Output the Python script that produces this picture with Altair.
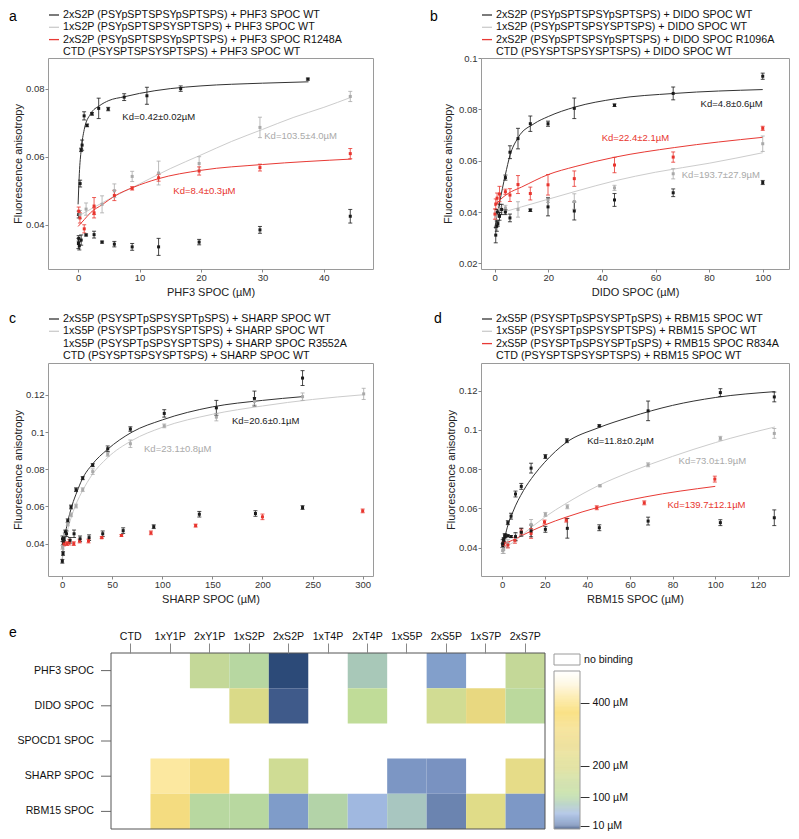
import altair as alt
import pandas as pd

FONT = "Liberation Sans"
BLACK, GRAY, RED = "#1a1a1a", "#a9a9a9", "#e8352e"
L_BLACK, L_GRAY, L_RED = "#333333", "#bcbcbc", "#f25a55"

# ---------------- panel a (PHF3) ----------------
A_LEGEND = ["2xS2P (PSYpSPTSPSYpSPTSPS) + PHF3 SPOC WT",
            "1xS2P (PSYpSPTSPSYSPTSPS) + PHF3 SPOC WT",
            "2xS2P (PSYpSPTSPSYpSPTSPS) + PHF3 SPOC R1248A",
            "CTD (PSYSPTSPSYSPTSPS) + PHF3 SPOC WT"]
A_2S2P_X = [0.1, 0.33, 0.49, 0.65, 0.98, 1.46, 2.26, 3.35, 4.9, 7.5, 11.2, 16.7, 37.4]
A_2S2P_Y = [0.0430, 0.0521, 0.0620, 0.0634, 0.0720, 0.0692, 0.0726, 0.0742, 0.0740, 0.0775, 0.0779, 0.0800, 0.0828]
A_2S2P_E = [0.0010, 0.0010, 0.0005, 0.0015, 0.0012, 0.0004, 0.0004, 0.0030, 0.0005, 0.0010, 0.0025, 0.0008, 0.0003]
A_1S2P_X = [0.3, 1.3, 3.9, 5.9, 8.8, 13.1, 19.7, 29.6, 44.3]
A_1S2P_Y = [0.0430, 0.0446, 0.0460, 0.0500, 0.0542, 0.0552, 0.0580, 0.0686, 0.0777]
A_1S2P_E = [0.0012, 0.0018, 0.0025, 0.0020, 0.0015, 0.0035, 0.0020, 0.0030, 0.0015]
A_MUT_X = [0.1, 0.3, 1.0, 2.6, 2.6, 5.9, 8.8, 13.1, 19.7, 29.6, 44.3]
A_MUT_Y = [0.0440, 0.0420, 0.0388, 0.0455, 0.0435, 0.0486, 0.0507, 0.0538, 0.0558, 0.0568, 0.0609]
A_MUT_E = [0.0012, 0.0015, 0.0012, 0.0025, 0.0015, 0.0015, 0.0005, 0.0010, 0.0012, 0.0010, 0.0015]
A_CTD_X = [0.05, 0.1, 0.2, 0.5, 1.3, 2.6, 3.9, 5.9, 8.8, 13.1, 19.7, 29.6, 44.3]
A_CTD_Y = [0.0345, 0.0360, 0.0338, 0.0355, 0.0370, 0.0371, 0.0349, 0.0343, 0.0335, 0.0335, 0.0349, 0.0385, 0.0425]
A_CTD_E = [0.0015, 0.0008, 0.0012, 0.0015, 0.0003, 0.0010, 0.0003, 0.0008, 0.0010, 0.0025, 0.0008, 0.0010, 0.0020]
A_FIT1_X = [0, 0.2, 0.5, 1, 2, 3.5, 5, 7.5, 10, 15, 20, 30, 37.5]
A_FIT1_Y = [0.046, 0.055, 0.062, 0.068, 0.0725, 0.075, 0.0765, 0.0776, 0.0786, 0.0800, 0.0808, 0.0816, 0.0820]
A_FIT2_X = [0, 5, 10, 15, 20, 25, 30, 35, 40, 44.5]
A_FIT2_Y = [0.0425, 0.0475, 0.052, 0.0565, 0.0605, 0.0645, 0.068, 0.0715, 0.0745, 0.0775]
A_FIT3_X = [0, 1, 2, 4, 6, 9, 13, 20, 30, 44.5]
A_FIT3_Y = [0.0395, 0.0415, 0.0435, 0.046, 0.0485, 0.051, 0.0535, 0.056, 0.0577, 0.0593]
A_KD = [("Kd=0.42±0.02µM", 7.2, 0.0717, BLACK),
        ("Kd=103.5±4.0µM", 30.3, 0.0660, GRAY),
        ("Kd=8.4±0.3µM", 15.5, 0.0498, RED)]

# ---------------- panel b (DIDO) ----------------
B_LEGEND = ["2xS2P (PSYpSPTSPSYpSPTSPS) + DIDO SPOC WT",
            "1xS2P (PSYpSPTSPSYSPTSPS) + DIDO SPOC WT",
            "2xS2P (PSYpSPTSPSYpSPTSPS) + DIDO SPOC R1096A",
            "CTD (PSYSPTSPSYSPTSPS) + DIDO SPOC WT"]
B_2S2P_X = [0.4, 0.8, 1.2, 1.8, 4.0, 5.7, 8.7, 13.3, 19.9, 29.7, 44.7, 66.6, 100]
B_2S2P_Y = [0.0310, 0.0345, 0.0355, 0.0410, 0.0534, 0.0633, 0.0686, 0.0744, 0.0744, 0.0804, 0.0816, 0.0862, 0.0929]
B_2S2P_E = [0.0030, 0.0020, 0.0010, 0.0020, 0.0010, 0.0025, 0.0040, 0.0030, 0.0010, 0.0040, 0.0005, 0.0025, 0.0012]
B_1S2P_X = [0.6, 1.8, 4.0, 8.7, 19.9, 29.7, 44.7, 66.6, 100]
B_1S2P_Y = [0.0385, 0.0410, 0.0416, 0.0410, 0.0447, 0.0441, 0.0494, 0.0549, 0.0666]
B_1S2P_E = [0.0015, 0.0010, 0.0010, 0.0030, 0.0010, 0.0030, 0.0010, 0.0020, 0.0030]
B_MUT_X = [0.1, 0.4, 0.9, 1.8, 4.0, 5.7, 8.7, 13.3, 19.9, 29.7, 44.7, 66.6, 100]
B_MUT_Y = [0.0392, 0.0431, 0.0454, 0.0470, 0.0479, 0.0466, 0.0507, 0.0472, 0.0506, 0.0530, 0.0583, 0.0614, 0.0726]
B_MUT_E = [0.0020, 0.0020, 0.0020, 0.0030, 0.0010, 0.0025, 0.0035, 0.0025, 0.0040, 0.0030, 0.0030, 0.0020, 0.0008]
B_CTD_X = [1.0, 1.8, 2.6, 4.0, 5.7, 13.3, 19.9, 29.7, 44.7, 66.6, 100]
B_CTD_Y = [0.0400, 0.0383, 0.0410, 0.0400, 0.0377, 0.0407, 0.0420, 0.0404, 0.0447, 0.0475, 0.0515]
B_CTD_E = [0.0010, 0.0015, 0.0020, 0.0010, 0.0015, 0.0005, 0.0035, 0.0035, 0.0025, 0.0015, 0.0008]
B_FIT1_X = [0, 1.8, 4, 5.7, 8.7, 14.7, 20, 30, 45, 67, 100]
B_FIT1_Y = [0.0336, 0.0435, 0.0546, 0.062, 0.0689, 0.0744, 0.0772, 0.0809, 0.0841, 0.0862, 0.0877]
B_FIT2_X = [0, 5, 10, 20, 30, 45, 60, 80, 100]
B_FIT2_Y = [0.039, 0.0405, 0.042, 0.045, 0.048, 0.0522, 0.0555, 0.059, 0.0631]
B_FIT3_X = [0, 2, 5, 10, 20, 30, 45, 67, 100]
B_FIT3_Y = [0.0423, 0.0447, 0.0472, 0.0497, 0.0546, 0.0577, 0.0614, 0.0651, 0.0691]
B_KD = [("Kd=4.8±0.6µM", 76.8, 0.0822, BLACK),
        ("Kd=22.4±2.1µM", 39.9, 0.0689, RED),
        ("Kd=193.7±27.9µM", 69.8, 0.0544, GRAY)]

# ---------------- panel c (SHARP) ----------------
C_LEGEND = ["2xS5P (PSYSPTpSPSYSPTpSPS) + SHARP SPOC WT",
            "1xS5P (PSYSPTpSPSYSPTSPS) + SHARP SPOC WT",
            "1xS5P (PSYSPTpSPSYSPTSPS) + SHARP SPOC R3552A",
            "CTD (PSYSPTSPSYSPTSPS) + SHARP SPOC WT"]
C_2S5P_X = [0.3, 1.0, 1.3, 3.3, 5.7, 9, 14, 20.6, 30.6, 45.6, 68.2, 102, 154, 192, 240]
C_2S5P_Y = [0.0305, 0.0347, 0.0405, 0.0463, 0.0523, 0.0597, 0.0690, 0.0752, 0.0822, 0.0910, 0.1016, 0.1100, 0.1130, 0.1180, 0.1290]
C_2S5P_E = [0.0010, 0.0010, 0.0010, 0.0010, 0.0010, 0.0010, 0.0010, 0.0008, 0.0008, 0.0015, 0.0012, 0.0020, 0.0040, 0.0040, 0.0040]
C_1S5P_X = [0.5, 2.7, 5.7, 9, 14, 20.6, 30.6, 45.6, 68.2, 102, 154, 192, 240, 301]
C_1S5P_Y = [0.0380, 0.0448, 0.0506, 0.0555, 0.0602, 0.0690, 0.0787, 0.0880, 0.0937, 0.1033, 0.1080, 0.1165, 0.1190, 0.1205]
C_1S5P_E = [0.0010, 0.0010, 0.0010, 0.0010, 0.0010, 0.0010, 0.0015, 0.0010, 0.0020, 0.0010, 0.0020, 0.0020, 0.0020, 0.0030]
C_MUT_X = [2, 4.9, 7.3, 11.7, 17.6, 26.4, 39.6, 59.3, 88.7, 133.3, 200, 300]
C_MUT_Y = [0.0398, 0.0400, 0.0408, 0.0400, 0.0414, 0.0414, 0.0432, 0.0444, 0.0458, 0.0497, 0.0544, 0.0576]
C_MUT_E = [0.0010, 0.0010, 0.0015, 0.0010, 0.0010, 0.0010, 0.0005, 0.0005, 0.0010, 0.0008, 0.0015, 0.0010]
C_CTD_X = [0.5, 2, 4.5, 8, 12, 18, 27, 40.6, 61, 91.5, 137, 193, 240]
C_CTD_Y = [0.0426, 0.0426, 0.0453, 0.0418, 0.0453, 0.0426, 0.0432, 0.0453, 0.0470, 0.0491, 0.0558, 0.0562, 0.0594]
C_CTD_E = [0.0015, 0.0010, 0.0015, 0.0015, 0.0020, 0.0015, 0.0015, 0.0015, 0.0015, 0.0010, 0.0015, 0.0015, 0.0010]
C_FIT1_X = [0, 2, 5, 10, 15, 20, 30, 45, 70, 100, 150, 200, 240]
C_FIT1_Y = [0.030, 0.041, 0.050, 0.0605, 0.068, 0.0745, 0.0825, 0.0905, 0.100, 0.1065, 0.1135, 0.1170, 0.1190]
C_FIT2_X = [0, 2, 5, 10, 15, 20, 30, 45, 70, 100, 150, 200, 250, 300]
C_FIT2_Y = [0.030, 0.038, 0.046, 0.0555, 0.0625, 0.068, 0.077, 0.086, 0.0955, 0.1025, 0.1095, 0.1140, 0.1175, 0.1200]
C_KD = [("Kd=20.6±0.1µM", 169.6, 0.1060, BLACK),
        ("Kd=23.1±0.8µM", 81.8, 0.0910, GRAY)]

# ---------------- panel d (RBM15) ----------------
D_LEGEND = ["2xS5P (PSYSPTpSPSYSPTpSPS) + RBM15 SPOC WT",
            "1xS5P (PSYSPTpSPSYSPTSPS) + RBM15 SPOC WT",
            "2xS5P (PSYSPTpSPSYSPTpSPS) + RMB15 SPOC R834A",
            "CTD (PSYSPTSPSYSPTSPS) + RBM15 SPOC WT"]
D_2S5P_X = [0.3, 0.75, 1.2, 2.7, 4.2, 6.3, 9, 13.6, 20.3, 30.4, 45.6, 68.5, 102.4, 127.7]
D_2S5P_Y = [0.0410, 0.0438, 0.0460, 0.0527, 0.0560, 0.0673, 0.0712, 0.0805, 0.0864, 0.0945, 0.1021, 0.1097, 0.1190, 0.1168]
D_2S5P_E = [0.0010, 0.0010, 0.0010, 0.0010, 0.0015, 0.0015, 0.0015, 0.0025, 0.0010, 0.0010, 0.0005, 0.0050, 0.0020, 0.0025]
D_1S5P_X = [0.3, 0.75, 2.7, 6.3, 9, 13.6, 20.3, 30.6, 45.9, 68.5, 102.4, 127.7]
D_1S5P_Y = [0.0385, 0.0390, 0.0420, 0.0450, 0.0480, 0.0518, 0.0569, 0.0608, 0.0715, 0.0822, 0.0957, 0.0982]
D_1S5P_E = [0.0015, 0.0020, 0.0020, 0.0020, 0.0020, 0.0025, 0.0010, 0.0010, 0.0005, 0.0010, 0.0010, 0.0025]
D_MUT_X = [0.8, 2.7, 6, 9, 13.6, 19.9, 30.1, 44.4, 66.7, 99.8]
D_MUT_Y = [0.0418, 0.0413, 0.0437, 0.0480, 0.0472, 0.0530, 0.0540, 0.0603, 0.0628, 0.0749]
D_MUT_E = [0.0010, 0.0015, 0.0015, 0.0015, 0.0025, 0.0010, 0.0010, 0.0010, 0.0010, 0.0015]
D_CTD_X = [0.3, 0.8, 1.5, 2.7, 4.2, 6.3, 9, 13.6, 20.3, 30.6, 45.6, 68.5, 102.4, 127.7]
D_CTD_Y = [0.0420, 0.0440, 0.0460, 0.0460, 0.0456, 0.0456, 0.0478, 0.0485, 0.0493, 0.0498, 0.0501, 0.0535, 0.0527, 0.0552]
D_CTD_E = [0.0020, 0.0010, 0.0010, 0.0005, 0.0005, 0.0020, 0.0020, 0.0030, 0.0015, 0.0050, 0.0015, 0.0020, 0.0015, 0.0040]
D_FIT1_X = [0, 2, 5, 10, 15, 20, 30, 45, 60, 80, 100, 128]
D_FIT1_Y = [0.038, 0.0485, 0.058, 0.069, 0.077, 0.0835, 0.0935, 0.101, 0.1065, 0.1125, 0.1165, 0.1195]
D_FIT2_X = [0, 5, 10, 20, 30, 45, 60, 80, 100, 128]
D_FIT2_Y = [0.0395, 0.0425, 0.047, 0.0555, 0.0625, 0.0715, 0.0785, 0.0865, 0.0935, 0.1015]
D_FIT3_X = [0, 5, 10, 20, 30, 45, 67, 100]
D_FIT3_Y = [0.0415, 0.0438, 0.0465, 0.0515, 0.0555, 0.0605, 0.0658, 0.0712]
D_KD = [("Kd=11.8±0.2µM", 39.9, 0.0945, BLACK),
        ("Kd=73.0±1.9µM", 82.8, 0.0839, GRAY),
        ("Kd=139.7±12.1µM", 77.6, 0.0619, RED)]

# ---------------- panel e (heatmap of Kd, µM) ----------------
E_COLS = ["CTD", "1xY1P", "2xY1P", "1xS2P", "2xS2P", "1xT4P", "2xT4P", "1xS5P", "2xS5P", "1xS7P", "2xS7P"]
E_ROWS = ["PHF3 SPOC", "DIDO SPOC", "SPOCD1 SPOC", "SHARP SPOC", "RBM15 SPOC"]
E_CELL_ROW = (["PHF3 SPOC"] * 6 + ["DIDO SPOC"] * 6 + ["SHARP SPOC"] * 6 + ["RBM15 SPOC"] * 10)
E_CELL_COL = (["2xY1P", "1xS2P", "2xS2P", "2xT4P", "2xS5P", "2xS7P"]
              + ["1xS2P", "2xS2P", "2xT4P", "2xS5P", "1xS7P", "2xS7P"]
              + ["1xY1P", "2xY1P", "2xS2P", "1xS5P", "2xS5P", "2xS7P"]
              + ["1xY1P", "2xY1P", "1xS2P", "2xS2P", "1xT4P", "2xT4P", "1xS5P", "2xS5P", "1xS7P", "2xS7P"])
E_CELL_KD = ([140, 103.5, 0.42, 80, 30, 140]
             + [193.7, 4.8, 120, 170, 260, 110]
             + [420, 320, 165, 23.1, 20.6, 240]
             + [320, 105, 105, 28, 95, 50, 73, 11.8, 225, 25])
CB_DOMAIN = [0, 0.42, 4.8, 11.8, 21, 28, 50, 73, 80, 95, 105, 120, 140, 168, 194, 225, 245, 260, 320, 370, 420, 460, 500]
CB_RANGE = ["#1c3562", "#2c4a78", "#3f5a8a", "#6b84b0", "#7a93c2", "#7f9cc9", "#a0b8e0", "#a8c6c0", "#a8c8b8",
            "#b3d3a8", "#b8d8a0", "#c0dc98", "#c4d898", "#d0dc94", "#dada88", "#e0dc88", "#e8dc88", "#e8d880",
            "#f4dc80", "#f8d860", "#fce8a0", "#fef6dc", "#ffffff"]
CB_TICKS = [10, 100, 200, 400]

ONE = pd.DataFrame({"k": [0]})


def spacer(x1, x2, y1, y2):
    return alt.Chart(ONE).mark_rect(opacity=0).encode(
        x=alt.value(x1), x2=alt.value(x2), y=alt.value(y1), y2=alt.value(y2))


def letter(t, x, y):
    return alt.Chart(pd.DataFrame({"t": [t]})).mark_text(
        align="left", baseline="middle", fontSize=14, color="#000").encode(
        text="t:N", x=alt.value(x), y=alt.value(y))


def pts_df(x, y, e, c):
    return pd.DataFrame({"x": x, "y": y,
                         "lo": [a - b for a, b in zip(y, e)],
                         "hi": [a + b for a, b in zip(y, e)], "c": c})


def panel(legend, leg_colors, point_sets, fits, kds, xdom, ydom, xticks, yticks,
          xtitle, W, H, let, lxy, sp, ytpad, legy):
    xs = alt.Scale(domain=xdom, nice=False, zero=False)
    ys = alt.Scale(domain=ydom, nice=False, zero=False)
    xax = alt.Axis(values=xticks, title=xtitle, titlePadding=5, labelPadding=0, tickSize=3)
    yax = alt.Axis(values=yticks, format="~g", title="Fluorescence anisotropy",
                   titlePadding=ytpad, labelPadding=1, tickSize=3)

    def X(f):
        return alt.X(f, type="quantitative", scale=xs, axis=xax)

    def Y(f):
        return alt.Y(f, type="quantitative", scale=ys, axis=yax)

    P = pd.concat([pts_df(*s) for s in point_sets], ignore_index=True)
    F = pd.concat([pd.DataFrame({"x": fx, "y": fy, "s": lab}) for lab, fx, fy in fits],
                  ignore_index=True)
    K = pd.DataFrame(kds, columns=["t", "x", "y", "c"])
    col = alt.Color("c:N", scale=None)
    lines = alt.Chart(F).mark_line(interpolate="monotone", strokeWidth=1).encode(
        X("x"), Y("y"),
        stroke=alt.Stroke("s:N", scale=alt.Scale(domain=legend, range=leg_colors),
                          legend=alt.Legend(orient="none", legendX=0, legendY=legy, title=None,
                                            symbolType="stroke", symbolSize=100,
                                            symbolStrokeWidth=1.3, labelFontSize=10.7,
                                            labelLimit=500, rowPadding=1.3, padding=0,
                                            labelOffset=3, direction="vertical",
                                            labelColor="#111")))
    bars = alt.Chart(P).mark_rule(strokeWidth=0.8).encode(X("x"), Y("lo"), y2=alt.Y2("hi"), color=col)
    cap_lo = alt.Chart(P).mark_rule(strokeWidth=0.8, xOffset=-2, x2Offset=2).encode(
        X("x"), x2=alt.X2("x"), y=Y("lo"), color=col)
    cap_hi = alt.Chart(P).mark_rule(strokeWidth=0.8, xOffset=-2, x2Offset=2).encode(
        X("x"), x2=alt.X2("x"), y=Y("hi"), color=col)
    dots = alt.Chart(P).mark_square(size=9, opacity=1).encode(X("x"), Y("y"), color=col)
    kd = alt.Chart(K).mark_text(align="left", baseline="middle", fontSize=9.5).encode(
        X("x"), Y("y"), text="t:N", color=col)
    return alt.layer(spacer(*sp), lines, bars, cap_lo, cap_hi, dots, kd,
                     letter(let, *lxy)).properties(width=W, height=H)


# layout (pixels, relative to each plot area)
H1, H2, H3 = 211, 213, 176
WL, WR, WE, WC = 325, 308, 497, 26

pa = panel(A_LEGEND, [L_BLACK, "#cccccc", "#e83a35", "rgba(0,0,0,0)"],
           [(A_2S2P_X, A_2S2P_Y, A_2S2P_E, BLACK), (A_1S2P_X, A_1S2P_Y, A_1S2P_E, GRAY),
            (A_MUT_X, A_MUT_Y, A_MUT_E, RED), (A_CTD_X, A_CTD_Y, A_CTD_E, BLACK)],
           [(A_LEGEND[0], A_FIT1_X, A_FIT1_Y), (A_LEGEND[1], A_FIT2_X, A_FIT2_Y),
            (A_LEGEND[2], A_FIT3_X, A_FIT3_Y)],
           A_KD, [-4.9, 48], [0.027, 0.089], [0, 10, 20, 30, 40], [0.04, 0.06, 0.08],
           "PHF3 SPOC (µM)", WL, H1, "a", (-39, -41), (-39, 345, -49, 246), 2, -49)

pb = panel(B_LEGEND, [L_BLACK, "#cccccc", "#e83a35", "rgba(0,0,0,0)"],
           [(B_2S2P_X, B_2S2P_Y, B_2S2P_E, BLACK), (B_1S2P_X, B_1S2P_Y, B_1S2P_E, GRAY),
            (B_MUT_X, B_MUT_Y, B_MUT_E, RED), (B_CTD_X, B_CTD_Y, B_CTD_E, BLACK)],
           [(B_LEGEND[0], B_FIT1_X, B_FIT1_Y), (B_LEGEND[1], B_FIT2_X, B_FIT2_Y),
            (B_LEGEND[2], B_FIT3_X, B_FIT3_Y)],
           B_KD, [-5.1, 109.8], [0.0178, 0.1], [0, 20, 40, 60, 80, 100],
           [0.02, 0.04, 0.06, 0.08, 0.1],
           "DIDO SPOC (µM)", WR, H1, "b", (-51, -41), (-86, WR, -49, 246), 5, -49)

pc = panel(C_LEGEND, [L_BLACK, "#cccccc", "rgba(0,0,0,0)", "rgba(0,0,0,0)"],
           [(C_2S5P_X, C_2S5P_Y, C_2S5P_E, BLACK), (C_1S5P_X, C_1S5P_Y, C_1S5P_E, GRAY),
            (C_MUT_X, C_MUT_Y, C_MUT_E, RED), (C_CTD_X, C_CTD_Y, C_CTD_E, BLACK)],
           [(C_LEGEND[0], C_FIT1_X, C_FIT1_Y), (C_LEGEND[1], C_FIT2_X, C_FIT2_Y)],
           C_KD, [-14, 310.3], [0.0226, 0.1371], [0, 50, 100, 150, 200, 250, 300],
           [0.04, 0.06, 0.08, 0.1, 0.12],
           "SHARP SPOC (µM)", WL, H2, "c", (-39, -44), (-39, 345, -57, 246), 2, -50)

pd_ = panel(D_LEGEND, [L_BLACK, "#cccccc", "#e83a35", "rgba(0,0,0,0)"],
            [(D_2S5P_X, D_2S5P_Y, D_2S5P_E, BLACK), (D_1S5P_X, D_1S5P_Y, D_1S5P_E, GRAY),
             (D_MUT_X, D_MUT_Y, D_MUT_E, RED), (D_CTD_X, D_CTD_Y, D_CTD_E, BLACK)],
            [(D_LEGEND[0], D_FIT1_X, D_FIT1_Y), (D_LEGEND[1], D_FIT2_X, D_FIT2_Y),
             (D_LEGEND[2], D_FIT3_X, D_FIT3_Y)],
            D_KD, [-9.9, 134.6], [0.0255, 0.1341], [0, 20, 40, 60, 80, 100, 120],
            [0.04, 0.06, 0.08, 0.1, 0.12],
            "RBM15 SPOC (µM)", WR, H2, "d", (-47, -44), (-86, WR, -57, 246), 2, -50)

# ---- heatmap ----
FX0 = 63  # frame left inside the view
cells = pd.DataFrame({"row": E_CELL_ROW, "col": E_CELL_COL, "kd": E_CELL_KD})
cscale = alt.Scale(domain=CB_DOMAIN, range=CB_RANGE, interpolate="rgb")
ysc = alt.Scale(domain=E_ROWS, paddingInner=0, paddingOuter=0)
heat = alt.Chart(cells).mark_rect().encode(
    x=alt.X("col:N", sort=E_COLS,
            scale=alt.Scale(domain=E_COLS, range=[FX0, WE], paddingInner=0, paddingOuter=0),
            axis=alt.Axis(orient="top", labelAngle=0, tickSize=10, tickColor="#888",
                          domain=False, labelPadding=2, labelFontSize=10.6, title=None,
                          labelColor="#111")),
    y=alt.Y("row:N", sort=E_ROWS, scale=ysc, axis=None),
    color=alt.Color("kd:Q", scale=cscale, legend=None))
rows_df = pd.DataFrame({"row": E_ROWS})
row_lab = alt.Chart(rows_df).mark_text(align="right", baseline="middle", fontSize=10.6,
                                       color="#111").encode(
    x=alt.value(FX0 - 17), y=alt.Y("row:N", sort=E_ROWS, scale=ysc, axis=None, bandPosition=0.5),
    text="row:N")
row_tick = alt.Chart(rows_df).mark_rule(color="#666", strokeWidth=1).encode(
    x=alt.value(FX0 - 10), x2=alt.value(FX0),
    y=alt.Y("row:N", sort=E_ROWS, scale=ysc, axis=None, bandPosition=0.5))
frame = alt.Chart(ONE).mark_rect(fill="transparent", stroke="#555", strokeWidth=1).encode(
    x=alt.value(FX0), x2=alt.value(WE), y=alt.value(0), y2=alt.value(H3))
pe = alt.layer(spacer(-39, WE, -43, H3), heat, frame, row_lab, row_tick,
               letter("e", -39, -20)).properties(
    width=WE, height=H3, view=alt.ViewBackground(stroke="transparent", strokeWidth=0))

# ---- colour bar ----
CB_TOP = 557
grad = pd.DataFrame({"v": [i * 2 for i in range(250)]})
grad["v2"] = grad["v"] + 2
grad["m"] = grad["v"] + 1
cb_y = alt.Scale(domain=[0, CB_TOP], nice=False, zero=False)
cb_axis = alt.Axis(orient="right", values=CB_TICKS, labelExpr="datum.value + ' µM'",
                   tickSize=9, tickColor="#333", domain=False, labelPadding=3,
                   labelFontSize=10.6, title=None, grid=False, labelColor="#111")
gbar = alt.Chart(grad).mark_rect().encode(
    x=alt.value(0), x2=alt.value(WC),
    y=alt.Y("v:Q", scale=cb_y, axis=cb_axis), y2=alt.Y2("v2"),
    color=alt.Color("m:Q", scale=cscale, legend=None))
gborder = alt.Chart(grad).mark_rect(fill="transparent", stroke="#9a9a9a", strokeWidth=1).encode(
    x=alt.value(0), x2=alt.value(WC),
    y=alt.Y("min(v):Q", scale=cb_y, axis=cb_axis), y2=alt.Y2("max(v2)"))
nob = alt.Chart(ONE).mark_rect(fill="white", stroke="#9a9a9a", strokeWidth=1).encode(
    x=alt.value(0), x2=alt.value(WC), y=alt.value(1), y2=alt.value(12))
nob_t = alt.Chart(pd.DataFrame({"t": ["no binding"]})).mark_text(
    align="left", baseline="middle", fontSize=10.6, color="#111").encode(
    text="t:N", x=alt.value(WC + 4), y=alt.value(6.5))
cbar = alt.layer(spacer(-8, WC, -43, H3), gbar, gborder, nob, nob_t).properties(
    width=WC, height=H3, view=alt.ViewBackground(stroke="transparent", strokeWidth=0))

RES = dict(color="independent", stroke="independent")
row1 = alt.hconcat(pa, pb, spacing=0).resolve_scale(**RES)
row2 = alt.hconcat(pc, pd_, spacing=0).resolve_scale(**RES)
row3 = alt.hconcat(pe, cbar, spacing=0).resolve_scale(**RES)

chart = alt.vconcat(row1, row2, row3, spacing=0).resolve_scale(**RES).properties(
    padding=0
).configure(font=FONT).configure_view(stroke="#9a9a9a", strokeWidth=1).configure_axis(
    labelFontSize=9.5, titleFontSize=11, titleFontWeight="normal", labelColor="#333",
    titleColor="#222", tickColor="#888", domain=False, grid=False
)

chart.save("out.html", embed_options={"renderer": "svg", "actions": False})
